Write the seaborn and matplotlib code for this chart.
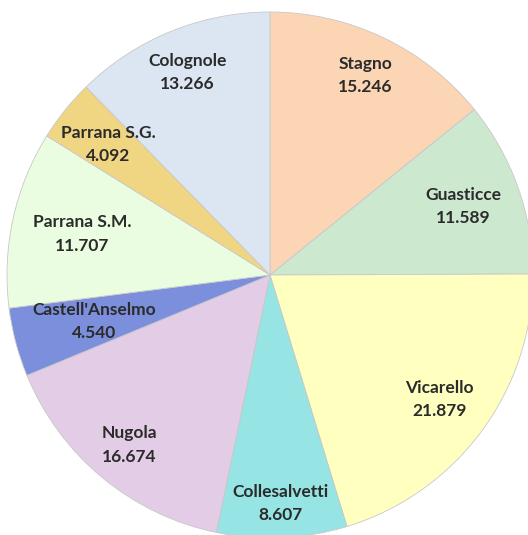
import numpy as np
import matplotlib
matplotlib.use("Agg")
import matplotlib.pyplot as plt
import seaborn as sns

# =============================
# DATA
# =============================
localities = ["Stagno", "Guasticce", "Vicarello", "Collesalvetti", "Nugola",
              "Castell'Anselmo", "Parrana S.M.", "Parrana S.G.", "Colognole"]
values = [15.246, 11.589, 21.879, 8.607, 16.674, 4.540, 11.707, 4.092, 13.266]
value_labels = ["15.246", "11.589", "21.879", "8.607", "16.674",
                "4.540", "11.707", "4.092", "13.266"]

# =============================
# STYLE
# =============================
colors = ["#FCD5B5", "#CCE8CF", "#FFFFC0", "#96E4E4", "#E3CCE5",
          "#7B8FDD", "#EBFDE0", "#F0D582", "#DCE6F2"]
label_radius = [0.84, 0.78, 0.80, 0.87, 0.84, 0.69, 0.73, 0.79, 0.83]

sns.set_style("white")
plt.rcParams["font.family"] = ["Lato", "DejaVu Sans"]

fig = plt.figure(figsize=(5.28, 5.35), dpi=100)
ax = fig.add_axes([0, 0, 1, 1])

wedges, _ = ax.pie(values, colors=colors, startangle=90, counterclock=False,
                   radius=1.0,
                   wedgeprops=dict(edgecolor="#c8c8c8", linewidth=0.6))

for w, name, val, r in zip(wedges, localities, value_labels, label_radius):
    mid = np.deg2rad((w.theta1 + w.theta2) / 2)
    ax.text(r * np.cos(mid), r * np.sin(mid), f"{name}\n{val}",
            ha="center", va="center", fontsize=12.5, fontweight="bold",
            color="#2b2b2b", linespacing=1.55)

# place pie center / radius like the original image
ax.set_xlim(-270 / 263, (528 - 270) / 263)
ax.set_ylim(-(535 - 275) / 263, 275 / 263)
ax.set_aspect("equal")
ax.axis("off")

fig.savefig("out.png", dpi=100)
